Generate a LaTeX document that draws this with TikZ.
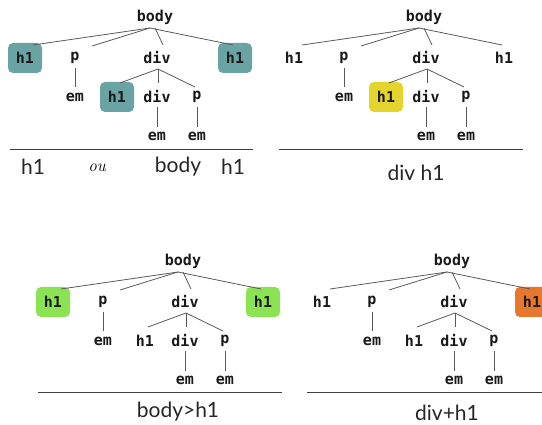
\documentclass[tikz,border=0pt]{standalone}
\usepackage{fontspec}
\usetikzlibrary{calc,positioning}
\newfontfamily\balise{DejaVu Sans Mono}
\newfontfamily\legende{Lato}
\definecolor{sarcelle}{HTML}{6AA3A3}
\definecolor{citron}{HTML}{E3D42E}
\definecolor{pomme}{HTML}{8BE353}
\definecolor{orange}{HTML}{E8772E}

% un arbre : body, ses fils et petits-fils
\newcommand{\arbre}[3]{%
\node[tag] (b) at (155,17) {body};
\node[tag,#1] (h1g) at (25,58) {h1};
\node[tag] (p) at (75,58) {p};
\node[tag] (d) at (157,58) {div};
\node[tag,#3] (h1d) at (235,58) {h1};
\node[tag] (em1) at (75,97) {em};
\node[tag,#2] (h1i) at (117,97) {h1};
\node[tag] (d2) at (157,97) {div};
\node[tag] (p2) at (197,97) {p};
\node[tag] (em2) at (157,136) {em};
\node[tag] (em3) at (197,136) {em};
\draw[arete] ($(b)+(-5,11)$) -- ($(h1g)+(8,-13)$);
\draw[arete] ($(b)+(-5,11)$) -- ($(p)+(17,-12)$);
\draw[arete] ($(b)+(0,11)$) -- ($(d)+(6,-13)$);
\draw[arete] ($(b)+(-5,11)$) -- ($(h1d)+(-2,-13)$);
\draw[arete] ($(d)+(1,11)$) -- ($(h1i)+(3,-14)$);
\draw[arete] ($(d)+(1,11)$) -- ($(d2)+(1,-14)$);
\draw[arete] ($(d)+(1,11)$) -- ($(p2)+(-2,-10)$);
\draw[arete] ($(p)+(0,10)$) -- ($(em1)+(0,-10)$);
\draw[arete] ($(d2)+(0,10)$) -- ($(em2)+(0,-9)$);
\draw[arete] ($(p2)+(0,10)$) -- ($(em3)+(0,-9)$);
}

\begin{document}
\begin{tikzpicture}[x=1pt,y=-1pt,
  tag/.style={font=\balise\bfseries\fontsize{15}{17}\selectfont,text=black!90,
    inner sep=0pt,minimum width=34pt,minimum height=30pt,rounded corners=5pt},
  sel/.style={fill=#1},
  arete/.style={draw=black!65,line width=0.8pt},
  regle/.style={draw=black!75,line width=1pt},
  leg/.style={font=\legende\fontsize{21}{24}\selectfont,text=black!85,inner sep=0pt}]
\clip (0,0) rectangle (542,425);

% en haut a gauche
\begin{scope}[name prefix=a-]
\arbre{sel=sarcelle}{sel=sarcelle}{sel=sarcelle}
\draw[regle] (10,150) -- (253,150);
\node[leg] (l1) at (33,167) {h1};
\node[font=\itshape\fontsize{17}{20}\selectfont,inner sep=0pt] (ou) at (97,168) {ou};
\node[leg] (l2) at (178,167) {body};
\node[leg] (l3) at (233,167) {h1};
\end{scope}

% en haut a droite
\begin{scope}[shift={(269,0)},name prefix=b-]
\arbre{}{sel=citron}{}
\draw[regle] (10,150) -- (254,150);
\node[leg] (l1) at (147,173) {div h1};
\end{scope}

% en bas a gauche
\begin{scope}[shift={(28,244)},name prefix=c-]
\arbre{sel=pomme}{}{sel=pomme}
\draw[regle] (10,149) -- (254,149);
\node[leg] (l1) at (150,168) {body>h1};
\end{scope}

% en bas a droite
\begin{scope}[shift={(297,244)},name prefix=d-]
\arbre{}{}{sel=orange}
\draw[regle] (10,149) -- (250,149);
\node[leg] (l1) at (150,169) {div+h1};
\end{scope}
\end{tikzpicture}
\end{document}
